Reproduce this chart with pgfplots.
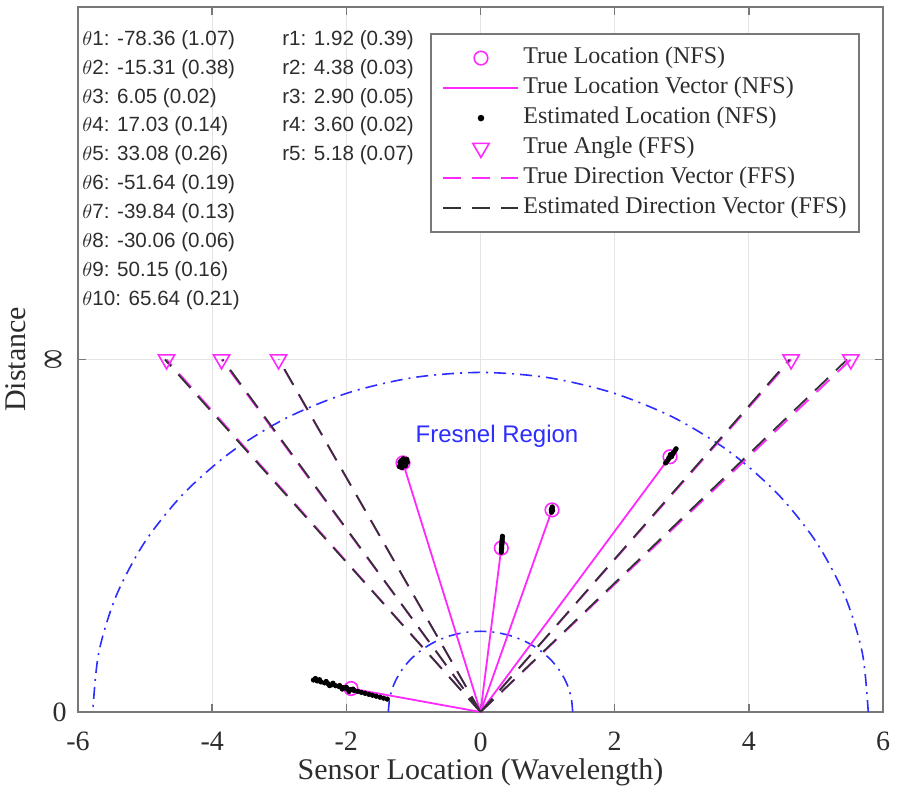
\documentclass[border=0pt]{standalone}
\usepackage{pgfplots}
\pgfplotsset{compat=1.18}
\usepackage{fontspec}
\setmainfont{Liberation Serif}
\newfontfamily\arial{Liberation Sans}
\usetikzlibrary{calc}
\definecolor{fblue}{RGB}{45,45,255}
\definecolor{mag}{RGB}{255,40,255}
\definecolor{axgray}{RGB}{120,120,120}
\definecolor{gridgray}{RGB}{228,228,228}
\definecolor{txt}{RGB}{45,45,45}
\definecolor{estgray}{RGB}{50,50,50}
\pgfplotsset{
  mymarklegend/.style={legend image code/.code={\draw[##1] plot coordinates {(18.75pt,0pt)};}},
  legmagsolid/.style={legend image code/.code={\draw[mag, line width=0.9pt, solid] (0pt,0pt) -- (37.5pt,0pt);}},
  legmagdash/.style={legend image code/.code={\draw[mag, line width=0.9pt, dash pattern=on 9pt off 5.5pt] (0pt,0pt) -- (37.5pt,0pt);}},
  leggraydash/.style={legend image code/.code={\draw[estgray, line width=0.9pt, dash pattern=on 9pt off 5.5pt] (0pt,0pt) -- (37.5pt,0pt);}},
}
\begin{document}
\begin{tikzpicture}
\begin{axis}[
  scale only axis, width=402.5pt, height=352.5pt,
  xmin=-6, xmax=6, ymin=0, ymax=12,
  xtick={-6,-4,-2,0,2,4,6},
  xticklabels={-6,-4,-2,0,2,4,6},
  ytick={0,6},
  yticklabels={0,{\rotatebox{90}{\scalebox{1}[1.6]{∞}}}},
  tick align=inside,
  tick pos=both,
  major tick length=4pt,
  grid=major,
  major grid style={gridgray, line width=0.6pt},
  axis line style={axgray, line width=1.1pt},
  tick style={axgray, line width=0.8pt},
  tick label style={font=\fontsize{14}{15}\selectfont, text=txt, inner sep=0pt},
  xticklabel style={anchor=north, yshift=-10pt},
  yticklabel style={anchor=east, xshift=-5.5pt},
  xlabel={Sensor Location (Wavelength)},
  ylabel={Distance},
  label style={font=\fontsize{15}{16}\selectfont, text=txt, inner sep=0pt},
  xlabel style={at={(axis description cs:0.5,-0.086)}, anchor=center},
  ylabel style={at={(axis description cs:-0.077,0.5)}, anchor=center},
  legend cell align=left,
  legend style={at={(0.971,0.963)}, anchor=north east, draw=axgray, line width=1pt,
    fill=white, font=\fontsize{12}{14}\selectfont, text=txt,
    inner xsep=6pt, inner ysep=4.5pt, row sep=0pt,
    nodes={inner sep=0pt, text height=10.2pt, text depth=4.8pt},
    /tikz/every odd column/.append style={column sep=2pt}},
]
% Fresnel region boundaries
\addplot[fblue, line width=0.8pt, dash pattern=on 6pt off 3pt on 1pt off 3pt, smooth, forget plot] coordinates {
(5.78,0) (5.692,1.004) (5.431,1.977) (5.006,2.890) (4.428,3.715) (3.715,4.428) (2.890,5.006) (1.977,5.431) (1.004,5.692) (0,5.78)
(-1.004,5.692) (-1.977,5.431) (-2.890,5.006) (-3.715,4.428) (-4.428,3.715) (-5.006,2.890) (-5.431,1.977) (-5.692,1.004) (-5.78,0)};
\addplot[fblue, line width=0.8pt, dash pattern=on 6pt off 3pt on 1pt off 3pt, smooth, forget plot] coordinates {
(1.374,0) (1.353,0.2386) (1.291,0.470) (1.190,0.687) (1.0525,0.8832) (0.8832,1.0525) (0.687,1.190) (0.470,1.291) (0.2386,1.353) (0,1.374)
(-0.2386,1.353) (-0.470,1.291) (-0.687,1.190) (-0.8832,1.0525) (-1.0525,0.8832) (-1.190,0.687) (-1.291,0.470) (-1.353,0.2386) (-1.374,0)};
% True Location (NFS)
\addplot[only marks, mark=o, mark size=3.4pt, mag, line width=0.8pt, mymarklegend] coordinates {
(-1.93,0.40) (-1.155,4.24) (0.31,2.79) (1.066,3.44) (2.825,4.345)};
\addlegendentry{True Location (NFS)}
% True Location Vector (NFS)
\addplot[mag, line width=0.9pt, unbounded coords=jump, legmagsolid] coordinates {
(0,0) (-1.93,0.40) (nan,nan) (0,0) (-1.155,4.24) (nan,nan) (0,0) (0.31,2.79) (nan,nan) (0,0) (1.066,3.44) (nan,nan) (0,0) (2.825,4.345)};
\addlegendentry{True Location Vector (NFS)}
% Estimated Location (NFS)
\addplot[only marks, mark=*, mark size=1.1pt, black, mymarklegend] coordinates {
(-1.39,0.22) (-1.445,0.236) (-1.50,0.2525) (-1.555,0.269) (-1.61,0.285) (-1.665,0.301) (-1.72,0.3175) (-1.775,0.334)
(-1.83,0.35) (-1.885,0.366) (-1.94,0.3825) (-1.995,0.399) (-2.05,0.415) (-2.105,0.431) (-2.16,0.4475) (-2.215,0.464)
(-2.27,0.48) (-2.325,0.496) (-2.38,0.5125) (-2.435,0.529) (-2.49,0.545)
(-1.90,0.39) (-2.00,0.42) (-2.10,0.45) (-2.20,0.49) (-2.30,0.52) (-2.40,0.55) (-2.46,0.57) (-1.96,0.35) (-2.06,0.39) (-2.25,0.45)
(-1.16,4.24) (-1.13,4.27) (-1.19,4.20) (-1.10,4.30) (-1.21,4.18) (-1.14,4.22) (-1.18,4.28) (-1.12,4.19) (-1.20,4.25) (-1.15,4.31) (-1.09,4.25) (-1.17,4.16)
(0.31,2.72) (0.312,2.76) (0.315,2.80) (0.317,2.84) (0.32,2.88) (0.322,2.92) (0.324,2.95) (0.327,2.99) (0.313,2.78) (0.318,2.86) (0.321,2.90)
(1.06,3.42) (1.07,3.45) (1.065,3.47) (1.075,3.43) (1.055,3.44) (1.07,3.49) (1.06,3.40)
(2.76,4.24) (2.78,4.27) (2.80,4.30) (2.82,4.33) (2.84,4.36) (2.86,4.39) (2.88,4.42) (2.90,4.45) (2.915,4.48) (2.81,4.33) (2.85,4.35) (2.83,4.38) (2.87,4.40)};
\addlegendentry{Estimated Location (NFS)}
% True Angle (FFS)
\addplot[only marks, mark=triangle, mark size=4.7pt, mag, line width=0.8pt, mark options={rotate=180}, mymarklegend] coordinates {
(-4.68,6) (-3.86,6) (-3.01,6) (4.63,6) (5.52,6)};
\addlegendentry{True Angle (FFS)}
% True Direction Vector (FFS)
\addplot[mag, line width=0.9pt, dash pattern=on 9pt off 5.5pt, unbounded coords=jump, legmagdash] coordinates {
(0,0) (-4.68,6) (nan,nan) (0,0) (-3.86,6) (nan,nan) (0,0) (-3.01,6) (nan,nan) (0,0) (4.63,6) (nan,nan) (0,0) (5.52,6)};
\addlegendentry{True Direction Vector (FFS)}
% Estimated Direction Vector (FFS)
\addplot[estgray, line width=0.9pt, dash pattern=on 9pt off 5.5pt, unbounded coords=jump, leggraydash] coordinates {
(0,0) (-4.705,6) (nan,nan) (0,0) (-3.843,6) (nan,nan) (0,0) (-3.005,6) (nan,nan) (0,0) (4.607,6) (nan,nan) (0,0) (5.466,6)};
\addlegendentry{Estimated Direction Vector (FFS)}
% annotations
\begin{scope}[every node/.style={anchor=west, font=\arial\fontsize{10.3}{12}\selectfont, text=txt, inner sep=0pt}]
\node at (axis cs:-5.94,11.44) {$\theta$1: -78.36 (1.07)};
\node at (axis cs:-5.94,10.948) {$\theta$2: -15.31 (0.38)};
\node at (axis cs:-5.94,10.456) {$\theta$3: 6.05 (0.02)};
\node at (axis cs:-5.94,9.964) {$\theta$4: 17.03 (0.14)};
\node at (axis cs:-5.94,9.472) {$\theta$5: 33.08 (0.26)};
\node at (axis cs:-5.94,8.98) {$\theta$6: -51.64 (0.19)};
\node at (axis cs:-5.94,8.488) {$\theta$7: -39.84 (0.13)};
\node at (axis cs:-5.94,7.996) {$\theta$8: -30.06 (0.06)};
\node at (axis cs:-5.94,7.504) {$\theta$9: 50.15 (0.16)};
\node at (axis cs:-5.94,7.012) {$\theta$10: 65.64 (0.21)};
\node at (axis cs:-2.96,11.44) {r1: 1.92 (0.39)};
\node at (axis cs:-2.96,10.948) {r2: 4.38 (0.03)};
\node at (axis cs:-2.96,10.456) {r3: 2.90 (0.05)};
\node at (axis cs:-2.96,9.964) {r4: 3.60 (0.02)};
\node at (axis cs:-2.96,9.472) {r5: 5.18 (0.07)};
\end{scope}
\node[font=\arial\fontsize{12}{14}\selectfont, text=fblue] at (axis cs:0.246,4.69) {Fresnel Region};
\end{axis}
\pgfresetboundingbox
\path[use as bounding box] ($(current axis.south west)+(-39pt,-44pt)$) rectangle ($(current axis.north east)+(8.5pt,3.5pt)$);
\end{tikzpicture}
\end{document}
